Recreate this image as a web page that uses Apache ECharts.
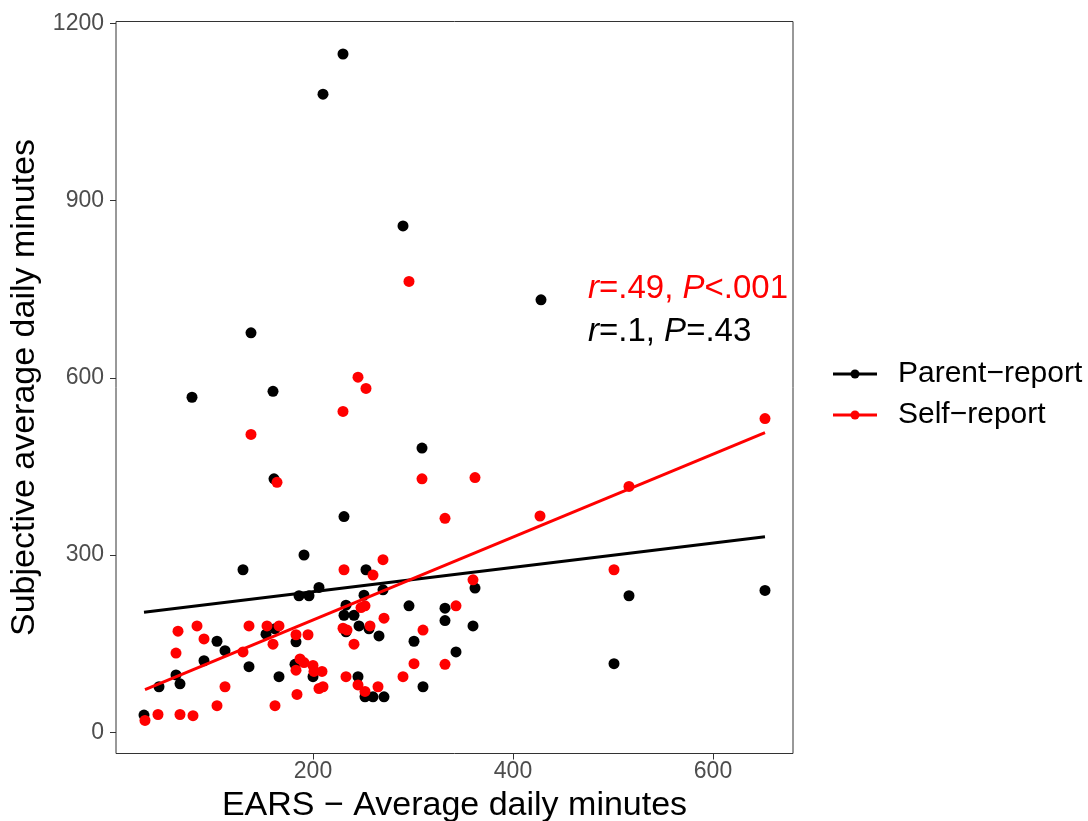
<!DOCTYPE html>
<html>
<head>
<meta charset="utf-8">
<script src="https://cdn.jsdelivr.net/npm/echarts@6/dist/echarts.min.js"></script>
<style>
html,body{margin:0;padding:0;background:#fff;}
#chart{width:1088px;height:821px;}
</style>
</head>
<body>
<div id="chart"></div>
<script>
// ---- data ----
const seriesNames = ['Parent\u2212report', 'Self\u2212report'];
const seriesColors = ['#000000', '#ff0000'];

const parentX = [31,46,63,67,79,91,104,112,130,136,138,153,160,161,162,166,182,183,186,191,196,200,206,210,230,231,231,233,233,241,245,246,251,252,253,256,260,266,270,271,290,296,301,309,310,332,332,343,360,362,428,501,516,652];
const parentY = [29,77,97,82,567,121,154,138,275,111,676,166,577,429,175,94,115,153,231,300,231,94,245,1080,1148,365,198,215,170,198,94,180,232,60,275,175,60,163,241,60,857,214,154,481,77,210,189,136,180,244,732,116,231,240];

const selfX = [32,45,63,65,67,80,84,91,104,112,130,136,138,154,160,162,164,166,183,183,184,187,191,195,200,201,206,209,210,230,230,231,233,234,241,245,245,248,252,252,253,257,260,265,270,271,290,296,301,309,310,332,332,343,360,362,427,501,516,652];
const selfY = [20,30,134,171,30,28,180,158,45,77,136,180,504,180,149,45,423,180,165,105,64,124,118,165,113,103,74,103,77,543,176,275,94,173,149,601,80,211,214,69,582,180,266,77,292,193,94,763,116,429,173,115,362,214,258,431,366,275,416,531];

// fitted line endpoints
const parentFitX = [31, 652];
const parentFitY = [203, 331];
const selfFitX = [32, 652];
const selfFitY = [72, 507];

const xTicks = [200, 400, 600];
const yTicks = [0, 300, 600, 900, 1200];

const xTitle = 'EARS \u2212 Average daily minutes';
const yTitle = 'Subjective average daily minutes';

// ---- chart ----
const FONT = '"Liberation Sans", Arial, Helvetica, sans-serif';
const zip = (a, b) => a.map((v, i) => [v, b[i]]);

const chart = echarts.init(document.getElementById('chart'), null, {renderer: 'canvas'});

const axisCommon = {
  type: 'value',
  axisLine: {show: false, onZero: false},
  splitLine: {show: false},
  axisTick: {show: true, inside: false, length: 6, lineStyle: {color: '#333333', width: 1}},
  axisLabel: {color: '#4d4d4d', fontSize: 23, fontFamily: FONT, formatter: v => String(v)},
  nameTextStyle: {color: '#000', fontSize: 34, fontFamily: FONT}
};

const option = {
  backgroundColor: '#ffffff',
  animation: false,
  grid: {left: 116, right: 295, top: 21.5, bottom: 67.5, show: true, borderColor: '#333333', borderWidth: 1, backgroundColor: 'transparent', containLabel: false, outerBoundsMode: 'none'},
  xAxis: Object.assign({}, axisCommon, {
    min: 3, max: 680,
    axisTick: Object.assign({}, axisCommon.axisTick, {customValues: xTicks}),
    axisLabel: Object.assign({}, axisCommon.axisLabel, {customValues: xTicks, margin: 7}),
    name: xTitle, nameLocation: 'middle', nameGap: 31
  }),
  yAxis: Object.assign({}, axisCommon, {
    min: -36, max: 1203,
    axisTick: Object.assign({}, axisCommon.axisTick, {customValues: yTicks}),
    axisLabel: Object.assign({}, axisCommon.axisLabel, {customValues: yTicks, margin: 12}),
    name: yTitle, nameLocation: 'middle', nameGap: 54
  }),
  series: [
    {name: seriesNames[0], type: 'scatter', data: zip(parentX, parentY), symbolSize: 11, itemStyle: {color: seriesColors[0], opacity: 1}, z: 3},
    {name: seriesNames[1], type: 'scatter', data: zip(selfX, selfY), symbolSize: 11, itemStyle: {color: seriesColors[1], opacity: 1}, z: 4},
    {name: seriesNames[0] + ' fit', type: 'line', data: zip(parentFitX, parentFitY), showSymbol: false, lineStyle: {color: seriesColors[0], width: 3}, z: 5},
    {name: seriesNames[1] + ' fit', type: 'line', data: zip(selfFitX, selfFitY), showSymbol: false, lineStyle: {color: seriesColors[1], width: 3}, z: 6}
  ],
  graphic: []
};

// legend (drawn)
const legendEls = [];
seriesNames.forEach((n, i) => {
  const y = 374 + 41 * i;
  legendEls.push({type: 'line', shape: {x1: 833, y1: y, x2: 877, y2: y}, style: {stroke: seriesColors[i], lineWidth: 3}});
  legendEls.push({type: 'circle', shape: {cx: 855, cy: y, r: 4.5}, style: {fill: seriesColors[i]}});
  legendEls.push({type: 'text', style: {x: 898, y: y, text: n, fill: '#000', font: '30px ' + FONT, verticalAlign: 'middle'}});
});

// annotations
const annot = [
  {y: 289, color: '#ff0000', parts: [['i','r'],['n','=.49, '],['i','P'],['n','<.001']]},
  {y: 332, color: '#000000', parts: [['i','r'],['n','=.1, '],['i','P'],['n','=.43']]}
];
annot.forEach(a => {
  legendEls.push({
    type: 'text',
    style: {
      x: 588, y: a.y, verticalAlign: 'middle',
      text: a.parts.map(p => '{' + p[0] + '|' + p[1] + '}').join(''),
      rich: {
        i: {fontStyle: 'italic', fontSize: 33, fontFamily: FONT, fill: a.color, color: a.color},
        n: {fontSize: 33, fontFamily: FONT, fill: a.color, color: a.color}
      }
    }
  });
});
option.graphic = legendEls;

chart.setOption(option);
</script>
</body>
</html>
